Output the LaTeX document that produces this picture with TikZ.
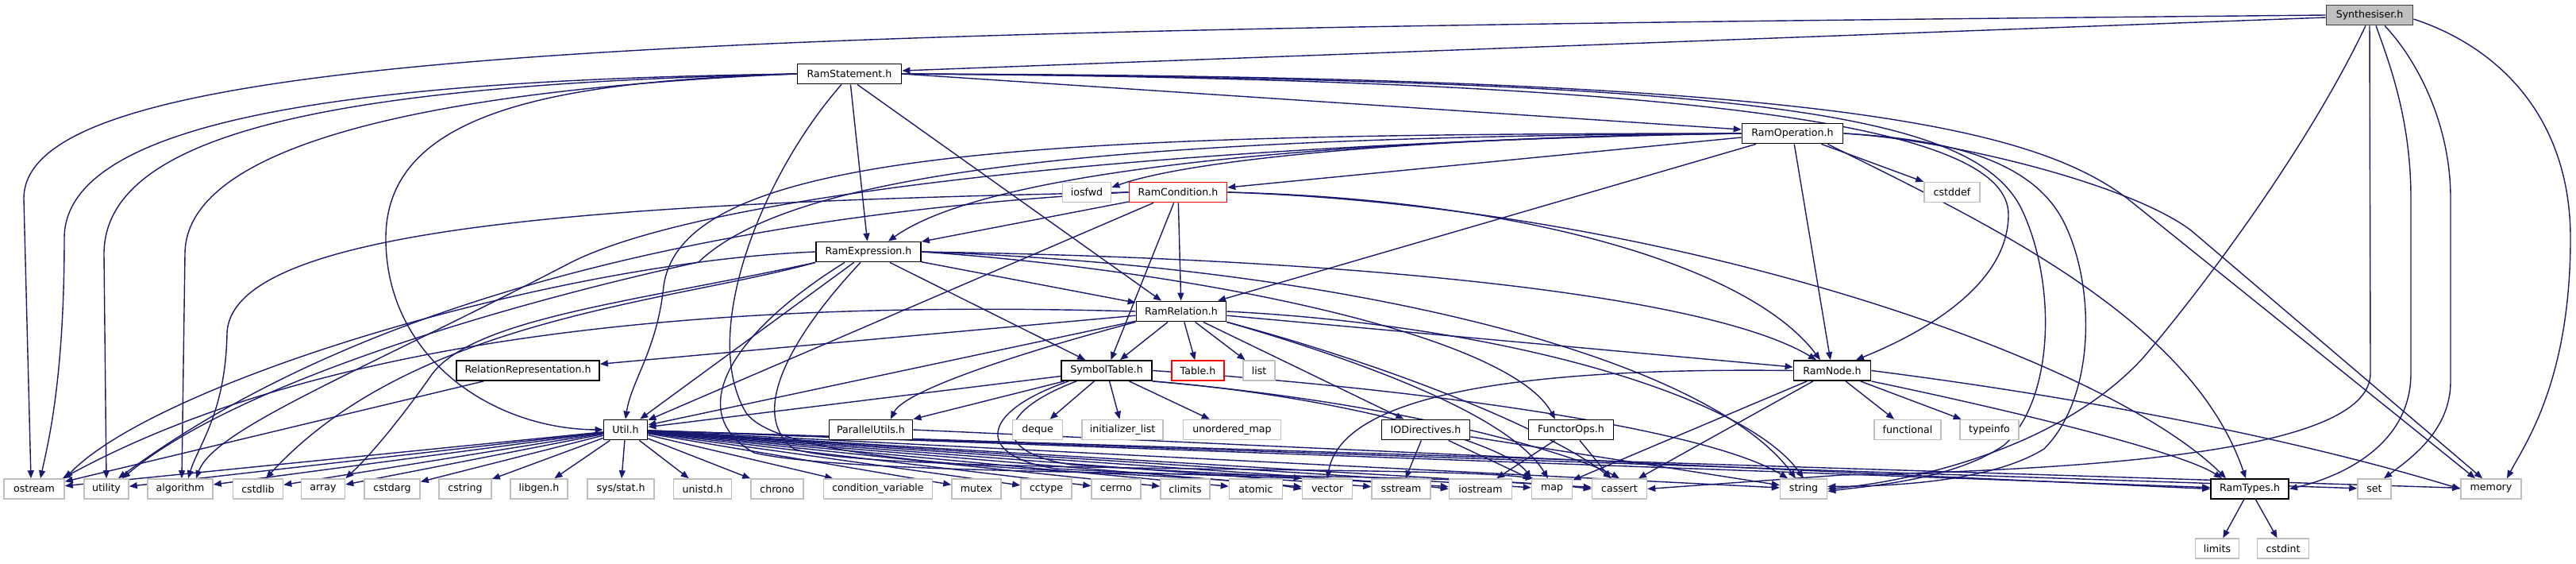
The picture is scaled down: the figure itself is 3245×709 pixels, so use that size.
\documentclass[tikz,border=0pt]{standalone}
\usepackage{fontspec}
\newfontfamily\dvs{DejaVu Sans}
\usetikzlibrary{arrows.meta,calc}
\definecolor{edgec}{HTML}{191970}
\definecolor{grayb}{HTML}{BFBFBF}
\definecolor{darkb}{HTML}{404040}
\pgfdeclarelayer{bg}
\pgfsetlayers{bg,main}
\tikzset{
 box/.style={rectangle, minimum height=12.5pt, inner sep=0pt, fill=white, font=\dvs\fontsize{6.3pt}{7.5pt}\selectfont},
 hn/.style={box, draw=black, line width=0.9pt},
 gn/.style={box, draw=grayb, line width=0.8pt},
 rn/.style={box, draw=red, line width=0.8pt},
 sn/.style={box, draw=darkb, fill=grayb, line width=0.9pt},
 edg/.style={draw=edgec, line width=0.7pt, -{Triangle[length=5pt,width=4pt]}},
}
\begin{document}
\begin{tikzpicture}[x=0.5pt,y=-0.5pt]
\useasboundingbox (0,0) rectangle (3245,709);
% ---- nodes ----
\node[sn, minimum width=54.5pt] (syn) at (2985,19) {Synthesiser.h};
\node[hn, minimum width=65.5pt] (stmt) at (1070,93) {RamStatement.h};
\node[hn, minimum width=63.5pt] (op) at (2258,168) {RamOperation.h};
\node[gn, minimum width=30.5pt] (iosfwd) at (1369,242) {iosfwd};
\node[rn, minimum width=61.5pt] (cond) at (1484,242) {RamCondition.h};
\node[gn, minimum width=35pt] (cstddef) at (2459,242) {cstddef};
\node[hn, minimum width=66pt] (expr) at (1094,317) {RamExpression.h};
\node[hn, minimum width=56.5pt] (rel) at (1488,392) {RamRelation.h};
\node[hn, minimum width=90pt] (relrep) at (665,466.5) {RelationRepresentation.h};
\node[hn, minimum width=57pt] (sym) at (1394,466.5) {SymbolTable.h};
\node[rn, minimum width=33pt] (table) at (1509,466.5) {Table.h};
\node[gn, minimum width=20pt] (nlist) at (1586,466.5) {list};
\node[hn, minimum width=48.5pt] (rnode) at (2308,466.5) {RamNode.h};
\node[hn, minimum width=27.5pt] (util) at (788,541) {Util.h};
\node[hn, minimum width=52.5pt] (par) at (1097,541) {ParallelUtils.h};
\node[gn, minimum width=31.5pt] (deque) at (1307,541) {deque};
\node[gn, minimum width=51pt] (initl) at (1414,541) {initializer\_list};
\node[gn, minimum width=61.5pt] (umap) at (1552,541) {unordered\_map};
\node[hn, minimum width=55.5pt] (io) at (1796,541) {IODirectives.h};
\node[hn, minimum width=53.5pt] (fops) at (1979,541) {FunctorOps.h};
\node[gn, minimum width=42pt] (functional) at (2403,541) {functional};
\node[gn, minimum width=37pt] (typeinfo) at (2506,541) {typeinfo};
\node[gn, minimum width=38pt] (ostream) at (43,615.5) {ostream};
\node[gn, minimum width=28pt] (utility) at (134,615.5) {utility};
\node[gn, minimum width=41pt] (algorithm) at (227,615.5) {algorithm};
\node[gn, minimum width=31.5pt] (cstdlib) at (325,615.5) {cstdlib};
\node[gn, minimum width=27.5pt] (narray) at (407,615.5) {array};
\node[gn, minimum width=35pt] (cstdarg) at (494,615.5) {cstdarg};
\node[gn, minimum width=33pt] (cstring) at (586,615.5) {cstring};
\node[gn, minimum width=36pt] (libgen) at (679,615.5) {libgen.h};
\node[gn, minimum width=42pt] (sysstat) at (782,615.5) {sys/stat.h};
\node[gn, minimum width=36.5pt] (unistd) at (885,615.5) {unistd.h};
\node[gn, minimum width=33pt] (chrono) at (979,615.5) {chrono};
\node[gn, minimum width=68.5pt] (condvar) at (1106,615.5) {condition\_variable};
\node[gn, minimum width=31pt] (mutex) at (1230,615.5) {mutex};
\node[gn, minimum width=32pt] (cctype) at (1318,615.5) {cctype};
\node[gn, minimum width=31pt] (cerrno) at (1406,615.5) {cerrno};
\node[gn, minimum width=31pt] (climits) at (1493,615.5) {climits};
\node[gn, minimum width=33.5pt] (atomic) at (1582,615.5) {atomic};
\node[gn, minimum width=31.5pt] (vector) at (1672,615.5) {vector};
\node[gn, minimum width=37pt] (sstream) at (1765,615.5) {sstream};
\node[gn, minimum width=39.5pt] (iostream) at (1865,615.5) {iostream};
\node[gn, minimum width=25.5pt] (nmap) at (1955,615.5) {map};
\node[gn, minimum width=34.5pt] (cassert) at (2040,615.5) {cassert};
\node[gn, minimum width=29.5pt] (nstring) at (2272,615.5) {string};
\node[hn, minimum width=49pt] (ramtypes) at (2834,615.5) {RamTypes.h};
\node[gn, minimum width=21pt] (nset) at (2991,615.5) {set};
\node[gn, minimum width=38pt] (memory) at (3138,615.5) {memory};
\node[gn, minimum width=27.5pt] (limits) at (2793,690.5) {limits};
\node[gn, minimum width=32.5pt] (cstdint) at (2876,690.5) {cstdint};
% ---- edges ----
\begin{pgfonlayer}{bg}
% Synthesiser.h
\draw[edg] ($(syn.west)+(0,3)$) -- ($(stmt.east)+(0,-4)$);
\draw[edg] (syn.west) .. controls (900,38) and (30,55) .. (30,250) -- ($(ostream.north)+(-4,0)$);
\draw[edg] ($(syn.south)+(-5,0)$) .. controls (2900,200) and (2760,380) .. (2700,450) .. controls (2600,560) and (2420,605) .. (nstring.east);
\draw[edg] (syn.south) -- (2986,470) .. controls (2986,560) and (2700,590) .. (2320,598) -- (cassert.east);
\draw[edg] ($(syn.south)+(8,0)$) .. controls (3010,80) and (3037,150) .. (3037,250) -- (3037,470) .. controls (3037,560) and (2950,600) .. (ramtypes.east);
\draw[edg] ($(syn.south)+(19,0)$) .. controls (3040,70) and (3087,150) .. (3087,250) -- (3087,480) .. controls (3087,540) and (3040,575) .. ($(nset.north)+(12,0)$);
\draw[edg] ($(syn.east)+(0,5)$) .. controls (3150,60) and (3238,150) .. (3238,300) .. controls (3238,480) and (3180,560) .. ($(memory.north)+(20,0)$);
% RamStatement.h
\draw[edg] (stmt.east) -- ($(op.west)+(0,-5)$);
\draw[edg] (stmt) -- (expr);
\draw[edg] ($(stmt.south)+(10,0)$) -- ($(rel.north)+(-25,0)$);
\draw[edg] (stmt.west) .. controls (700,102) and (486,140) .. (486,300) .. controls (486,450) and (620,540) .. (util.west);
\draw[edg] (stmt.west) .. controls (500,100) and (81,140) .. (81,300) .. controls (81,480) and (60,560) .. ($(ostream.north)+(8,0)$);
\draw[edg] (stmt.west) .. controls (450,106) and (131,160) .. (131,320) -- (utility.north);
\draw[edg] (stmt.west) .. controls (600,110) and (233,170) .. (233,320) -- ($(algorithm.north)+(2,0)$);
\draw[edg] (stmt.east) .. controls (2200,100) and (2530,165) .. (2530,270) .. controls (2530,360) and (2420,420) .. ($(rnode.north)+(30,0)$);
\draw[edg] (stmt.east) .. controls (2300,95) and (2560,160) .. (2680,250) -- ($(memory.north)+(-20,0)$);
\draw[edg] (stmt.east) .. controls (2200,100) and (2480,140) .. (2545,260) .. controls (2590,350) and (2590,500) .. (2525,560) .. controls (2460,605) and (2350,612) .. ($(nstring.east)+(0,3)$);
\draw[edg] ($(stmt.south)+(-10,0)$) .. controls (960,220) and (880,420) .. (940,520) .. controls (1000,600) and (1500,590) .. (vector.west);
% RamOperation.h
\draw[edg] (op.west) .. controls (1800,172) and (1500,200) .. ($(iosfwd.east)+(0,-6)$);
\draw[edg] ($(op.west)+(0,5)$) -- ($(cond.east)+(0,-6)$);
\draw[edg] (op.west) .. controls (1700,175) and (1250,210) .. ($(expr.north)+(25,0)$);
\draw[edg] (op.west) .. controls (1300,168) and (860,190) .. (836,360) .. controls (828,440) and (795,480) .. (util.north);
\draw[edg] (op.west) .. controls (1400,172) and (1000,215) .. (880,330) .. controls (650,380) and (300,480) .. ($(utility.north)+(20,0)$);
\draw[edg] (op.west) .. controls (1500,180) and (900,240) .. (720,330) .. controls (450,470) and (270,540) .. ($(algorithm.north)+(20,0)$);
\draw[edg] (op) -- (rel);
\draw[edg] (op) -- (rnode);
\draw[edg] (op) -- (cstddef);
\draw[edg] ($(op.south east)+(-20,0)$) .. controls (2500,280) and (2760,400) .. ($(ramtypes.north)+(-5,0)$);
\draw[edg] (op.east) .. controls (2450,175) and (2680,230) .. (2760,290) -- ($(memory.north)+(-11,0)$);
\draw[edg] (op.east) .. controls (2450,175) and (2560,200) .. (2600,280) .. controls (2640,360) and (2640,500) .. (2575,565) .. controls (2500,612) and (2350,612) .. ($(nstring.east)+(0,-3)$);
% RamCondition.h
\draw[edg] (cond) -- (expr);
\draw[edg] (cond) -- (rel);
\draw[edg] (cond) -- (sym);
\draw[edg] (cond) -- (util);
\draw[edg] (cond.east) .. controls (1900,250) and (2200,330) .. ($(rnode.north)+(-15,0)$);
\draw[edg] (cond.east) .. controls (2100,260) and (2650,450) .. ($(ramtypes.north)+(-30,0)$);
\draw[edg] (cond.west) .. controls (800,255) and (290,280) .. (286,420) .. controls (284,520) and (250,560) .. ($(algorithm.north)+(10,0)$);
\draw[edg] (cond.west) .. controls (900,270) and (450,380) .. ($(utility.north)+(15,0)$);
% RamExpression.h
\draw[edg] (expr) -- (rel);
\draw[edg] (expr) -- (sym);
\draw[edg] (expr) -- (util);
\draw[edg] (expr.east) .. controls (1700,325) and (2150,370) .. ($(rnode.north)+(-20,0)$);
\draw[edg] (expr.east) .. controls (1500,340) and (1900,420) .. ($(fops.north)+(-20,0)$);
\draw[edg] (expr.east) .. controls (1700,335) and (2150,450) .. ($(nstring.north)+(-10,0)$);
\draw[edg] (expr.west) .. controls (700,330) and (200,480) .. (ostream.north east);
\draw[edg] (expr.south west) .. controls (800,380) and (600,400) .. (545,470) .. controls (510,520) and (470,570) .. (narray.north east);
\draw[edg] (expr.south west) .. controls (850,380) and (520,400) .. ($(cstdlib.north)+(10,0)$);
\draw[edg] ($(expr.south)+(-30,0)$) .. controls (920,420) and (860,520) .. (950,570) .. controls (1100,605) and (1800,590) .. (cassert.west);
\draw[edg] ($(expr.south)+(-10,0)$) .. controls (1000,420) and (940,520) .. (1000,565) .. controls (1100,598) and (1800,585) .. ($(nmap.north west)+(3,0)$);
% RamRelation.h
\draw[edg] (rel) -- (sym);
\draw[edg] (rel) -- (table);
\draw[edg] (rel) -- (nlist);
\draw[edg] (rel) -- (io);
\draw[edg] (rel.south west) .. controls (1300,440) and (1140,490) .. ($(par.north)+(25,0)$);
\draw[edg] (rel) -- (relrep);
\draw[edg] (rel) -- (util);
\draw[edg] (rel) -- (rnode);
\draw[edg] (rel.east) .. controls (1900,410) and (2200,500) .. (nstring.north);
\draw[edg] (rel.west) .. controls (1000,380) and (450,400) .. ($(ostream.north east)+(-3,0)$);
\draw[edg] (rel.south east) .. controls (1700,450) and (1900,520) .. ($(nmap.north)+(-5,0)$);
\draw[edg] (rel.south east) .. controls (1750,460) and (1950,540) .. ($(cassert.north)+(-10,0)$);
% SymbolTable.h
\draw[edg] (sym) -- (deque);
\draw[edg] (sym) -- (initl);
\draw[edg] (sym) -- (umap);
\draw[edg] (sym) -- (par);
\draw[edg] (sym) -- (util);
\draw[edg] (sym.east) .. controls (1800,490) and (2150,540) .. ($(nstring.north)+(-20,0)$);
\draw[edg] (sym.south east) .. controls (1700,500) and (1900,560) .. (nmap.north west);
\draw[edg] ($(sym.south west)+(10,0)$) .. controls (1230,520) and (1230,575) .. (1330,590) .. controls (1500,600) and (1700,600) .. (iostream.west);
\draw[edg] ($(sym.south west)+(20,0)$) .. controls (1250,520) and (1250,570) .. (1350,585) .. controls (1500,595) and (1600,598) .. (vector.north west);
\draw[edg] (sym.south east) .. controls (1800,510) and (2000,580) .. (cassert.north);
% RamNode.h
\draw[edg] (rnode.west) .. controls (1900,462) and (1690,500) .. (vector.north);
\draw[edg] (rnode) -- (nmap);
\draw[edg] (rnode) -- (cassert);
\draw[edg] (rnode) -- (functional);
\draw[edg] (rnode) -- (typeinfo);
\draw[edg] (rnode.east) .. controls (2700,510) and (2950,570) .. (memory.west);
\draw[edg] (rnode.south east) .. controls (2550,520) and (2750,570) .. ($(ramtypes.north)+(-35,0)$);
% IODirectives.h, FunctorOps.h, ParallelUtils.h, RelationRepresentation.h
\draw[edg] (io) -- (sstream);
\draw[edg] (io) -- (nmap);
\draw[edg] (io) -- (nstring);
\draw[edg] (fops) -- (iostream);
\draw[edg] (fops) -- (cassert);
\draw[edg] (par.east) -- (ramtypes.west);
\draw[edg] (relrep) -- (ostream);
% Util.h
\foreach \t in {ostream,utility,algorithm,cstdlib,narray,cstdarg,cstring,libgen,sysstat,unistd,chrono,condvar,mutex,cctype,cerrno,climits,atomic,vector,sstream,iostream,nmap,cassert,nstring,ramtypes,nset,memory}
  \draw[edg] (util) -- (\t);
% RamTypes.h
\draw[edg] (ramtypes) -- (limits);
\draw[edg] (ramtypes) -- (cstdint);
\end{pgfonlayer}
\end{tikzpicture}
\end{document}
